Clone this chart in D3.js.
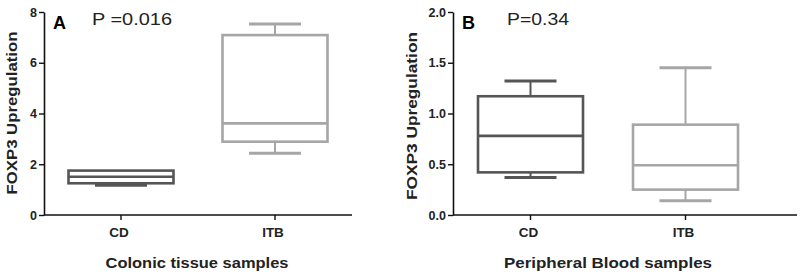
<!DOCTYPE html>
<html>
<head>
<meta charset="utf-8">
<script src="https://cdn.jsdelivr.net/npm/d3@7"></script>
<style>
  html, body { margin: 0; padding: 0; background: #fff; }
  svg { display: block; font-family: 'Liberation Sans', Arial, sans-serif; }
</style>
</head>
<body>
<div id="chart"></div>
<script>
// five-number summaries: [min, q1, median, q3, max]
const categories = ['CD', 'ITB']
const tissueCD = [1.17, 1.25, 1.51, 1.75, 1.75]
const tissueITB = [2.43, 2.89, 3.61, 7.09, 7.53]
const bloodCD = [0.37, 0.42, 0.78, 1.17, 1.32]
const bloodITB = [0.14, 0.25, 0.49, 0.89, 1.45]

const tissueTicks = [0, 2, 4, 6, 8]
const bloodTicks = [0, 0.5, 1, 1.5, 2]

const boxColors = ['#555555', '#a6a6a6']

const svg = d3
  .select('#chart')
  .append('svg')
  .attr('width', 800)
  .attr('height', 277)

function renderPanel({
  left,
  axisEnd,
  bandWidth,
  yMax,
  ticks,
  tickFormat,
  series,
  letter,
  pText,
  pX,
  pLength,
  title,
  titleX,
  titleLength,
  labelX,
  labelY,
  labelLength,
}) {
  const top = 12
  const bottom = 215
  const g = svg.append('g')

  const yScale = d3.scaleLinear().domain([0, yMax]).range([bottom, top])
  const xScale = d3
    .scaleBand()
    .domain(categories)
    .range([left, left + bandWidth * 2])

  // y axis
  g.append('g')
    .attr('transform', `translate(${left}, 0)`)
    .call(
      d3.axisLeft(yScale).tickValues(ticks).tickFormat(tickFormat).tickSize(5).tickSizeOuter(0),
    )
    .call(a => {
      a.select('.domain').attr('stroke', '#111').attr('stroke-width', 1.6)
      a.selectAll('.tick line').attr('stroke', '#111').attr('stroke-width', 1.4)
      a.selectAll('.tick text')
        .attr('fill', '#222')
        .attr('x', -7)
        .style('font-size', '12.5px')
        .style('font-weight', 'bold')
    })

  // x axis
  g.append('line')
    .attr('x1', left)
    .attr('x2', axisEnd)
    .attr('y1', bottom)
    .attr('y2', bottom)
    .attr('stroke', '#111')
    .attr('stroke-width', 1.6)

  g.selectAll('line.xtick')
    .data(categories)
    .join('line')
    .attr('class', 'xtick')
    .attr('x1', d => xScale(d) + xScale.bandwidth() / 2)
    .attr('x2', d => xScale(d) + xScale.bandwidth() / 2)
    .attr('y1', bottom)
    .attr('y2', bottom + 5)
    .attr('stroke', '#111')
    .attr('stroke-width', 1.4)

  g.selectAll('text.xlabel')
    .data(categories)
    .join('text')
    .attr('class', 'xlabel')
    .attr('x', d => xScale(d) + xScale.bandwidth() / 2 - 2)
    .attr('y', 237)
    .attr('text-anchor', 'middle')
    .style('font-size', '13.5px')
    .style('font-weight', 'bold')
    .attr('fill', '#222')
    .text(d => d)

  // boxes
  const boxW = 105
  const capW = 52
  series.forEach((s, i) => {
    const cx = xScale(categories[i]) + xScale.bandwidth() / 2
    const color = boxColors[i]
    const [mn, q1, med, q3, mx] = s
    const bg = g.append('g')
    bg.append('line')
      .attr('x1', cx).attr('x2', cx)
      .attr('y1', yScale(q3)).attr('y2', yScale(mx))
      .attr('stroke', color).attr('stroke-width', 2)
    bg.append('line')
      .attr('x1', cx).attr('x2', cx)
      .attr('y1', yScale(q1)).attr('y2', yScale(mn))
      .attr('stroke', color).attr('stroke-width', 2)
    bg.selectAll('line.cap')
      .data(mx > q3 ? [mn, mx] : [mn])
      .join('line')
      .attr('class', 'cap')
      .attr('x1', cx - capW / 2).attr('x2', cx + capW / 2)
      .attr('y1', d => yScale(d)).attr('y2', d => yScale(d))
      .attr('stroke', color).attr('stroke-width', 3)
    bg.append('rect')
      .attr('x', cx - boxW / 2)
      .attr('width', boxW)
      .attr('y', yScale(q3))
      .attr('height', yScale(q1) - yScale(q3))
      .attr('fill', 'none')
      .attr('stroke', color)
      .attr('stroke-width', 2.6)
    bg.append('line')
      .attr('x1', cx - boxW / 2).attr('x2', cx + boxW / 2)
      .attr('y1', yScale(med)).attr('y2', yScale(med))
      .attr('stroke', color).attr('stroke-width', 2.6)
  })

  // y axis label
  g.append('text')
    .attr('transform', `translate(${labelX}, ${labelY}) rotate(-90)`)
    .attr('text-anchor', 'middle')
    .attr('textLength', labelLength)
    .attr('lengthAdjust', 'spacingAndGlyphs')
    .style('font-size', '15px')
    .style('font-weight', 'bold')
    .attr('fill', '#222')
    .text('FOXP3 Upregulation')

  // panel letter and p value
  g.append('text')
    .attr('x', left + 9)
    .attr('y', 29)
    .style('font-size', '18px')
    .style('font-weight', 'bold')
    .attr('fill', '#000')
    .text(letter)

  g.append('text')
    .attr('x', pX)
    .attr('y', 25)
    .attr('textLength', pLength)
    .attr('lengthAdjust', 'spacingAndGlyphs')
    .style('font-size', '17px')
    .attr('fill', '#222')
    .text(pText)

  // title
  g.append('text')
    .attr('x', titleX)
    .attr('y', 268)
    .attr('text-anchor', 'middle')
    .attr('textLength', titleLength)
    .attr('lengthAdjust', 'spacingAndGlyphs')
    .style('font-size', '15px')
    .style('font-weight', 'bold')
    .attr('fill', '#222')
    .text(title)
}

renderPanel({
  left: 44,
  axisEnd: 352,
  bandWidth: 154,
  yMax: 8,
  ticks: tissueTicks,
  tickFormat: d3.format('d'),
  series: [tissueCD, tissueITB],
  letter: 'A',
  pText: 'P =0.016',
  pX: 92,
  pLength: 80,
  title: 'Colonic tissue samples',
  titleX: 197,
  titleLength: 183,
  labelX: 17,
  labelY: 113,
  labelLength: 163,
})

renderPanel({
  left: 453,
  axisEnd: 797,
  bandWidth: 155,
  yMax: 2,
  ticks: bloodTicks,
  tickFormat: d3.format('.1f'),
  series: [bloodCD, bloodITB],
  letter: 'B',
  pText: 'P=0.34',
  pX: 507,
  pLength: 62,
  title: 'Peripheral Blood samples',
  titleX: 608,
  titleLength: 208,
  labelX: 417,
  labelY: 116,
  labelLength: 168,
})
</script>
</body>
</html>
